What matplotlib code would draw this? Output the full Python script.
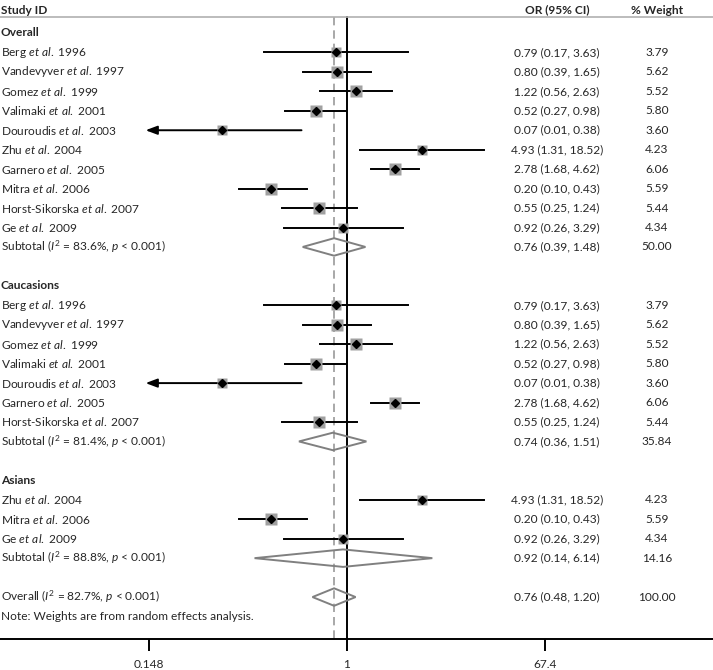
import numpy as np
import matplotlib
matplotlib.use("Agg")
import matplotlib.pyplot as plt
import matplotlib.transforms as mtransforms
from matplotlib.patches import Polygon

# 研究データ
authors = ["Berg", "Vandevyver", "Gomez", "Valimaki", "Douroudis",
           "Zhu", "Garnero", "Mitra", "Horst-Sikorska", "Ge"]
years = [1996, 1997, 1999, 2001, 2003, 2004, 2005, 2006, 2007, 2009]
or_est = [0.79, 0.80, 1.22, 0.52, 0.07, 4.93, 2.78, 0.20, 0.55, 0.92]
ci_low = [0.17, 0.39, 0.56, 0.27, 0.01, 1.31, 1.68, 0.10, 0.25, 0.26]
ci_high = [3.63, 1.65, 2.63, 0.98, 0.38, 18.52, 4.62, 0.43, 1.24, 3.29]
weights = [3.79, 5.62, 5.52, 5.80, 3.60, 4.23, 6.06, 5.59, 5.44, 4.34]

# サブグループ
groups = ["Overall", "Caucasions", "Asians"]
group_members = [[0, 1, 2, 3, 4, 5, 6, 7, 8, 9], [0, 1, 2, 3, 4, 6, 8], [5, 7, 9]]
sub_est = [0.76, 0.74, 0.92]
sub_low = [0.39, 0.36, 0.14]
sub_high = [1.48, 1.51, 6.14]
sub_weight = ["50.00", "35.84", "14.16"]
sub_i2 = ["83.6", "81.4", "88.8"]

overall_est = 0.76
overall_low = 0.48
overall_high = 1.20
overall_i2 = "82.7"

tick_vals = [1 / 67.4, 1, 67.4]
tick_labels = ["0.148", "1", "67.4"]

plt.rcParams["font.family"] = ["Lato", "DejaVu Sans"]
plt.rcParams["font.size"] = 8.6
plt.rcParams["mathtext.fontset"] = "custom"
plt.rcParams["mathtext.rm"] = "Lato"
plt.rcParams["mathtext.it"] = "Lato:italic"
plt.rcParams["mathtext.bf"] = "Lato:bold"

W, H = 713, 670
fig = plt.figure(figsize=(W / 100, H / 100), dpi=100)
axis_px = 639
ax = fig.add_axes([0, (H - axis_px) / H, 1, axis_px / H])

# x軸: 対数スケール (px位置合わせ)
k = (545 - 347) / np.log(67.4)
ax.set_xscale("log")
ax.set_xlim(np.exp(-347 / k), np.exp((W - 347) / k))

# y軸: 行番号
row0_px, row_h = 33, 19.45
ax.set_ylim((axis_px - row0_px) / row_h, -row0_px / row_h)
hdr_row = (10 - row0_px) / row_h
hdr_line = (17 - row0_px) / row_h

trans = mtransforms.blended_transform_factory(ax.transAxes, ax.transData)
col_or = 557 / W
col_w = 657 / W
txt_c = "#262626"

ax.text(0.001, hdr_row, "Study ID", transform=trans, ha="left", va="center",
        fontweight="bold", color=txt_c)
ax.text(col_or, hdr_row, "OR (95% CI)", transform=trans, ha="center", va="center",
        fontweight="bold", color=txt_c)
ax.text(col_w, hdr_row, "% Weight", transform=trans, ha="center", va="center",
        fontweight="bold", color=txt_c)
ax.axhline(hdr_line, color="#b0b0b0", lw=1.2)

xclip = tick_vals[0]


def draw_diamond(est, lo, hi, row):
    pts = [(lo, row), (est, row - 0.45), (hi, row), (est, row + 0.45)]
    ax.add_patch(Polygon(pts, closed=True, fill=False, edgecolor="#808080", lw=1.4, zorder=4))


row = 0
for g, members, se, sl, sh, sw, si in zip(groups, group_members, sub_est, sub_low,
                                          sub_high, sub_weight, sub_i2):
    ax.text(0.001, row, g, transform=trans, ha="left", va="center",
            fontweight="bold", color=txt_c)
    row += 1
    for i in members:
        label = authors[i] + r" $\mathit{et\ al.}$ " + str(years[i])
        ax.text(0.001, row, label, transform=trans, ha="left", va="center", color=txt_c)
        ax.text(col_or, row, "%.2f (%.2f, %.2f)" % (or_est[i], ci_low[i], ci_high[i]),
                transform=trans, ha="center", va="center", color=txt_c)
        ax.text(col_w, row, "%.2f" % weights[i], transform=trans, ha="center",
                va="center", color=txt_c)
        if ci_low[i] < xclip:
            ax.annotate("", xy=(xclip * 0.93, row), xytext=(ci_high[i], row),
                        arrowprops=dict(arrowstyle="-|>,head_length=0.8,head_width=0.3",
                                        color="black", lw=1.4, shrinkA=0, shrinkB=0),
                        zorder=2)
        else:
            ax.plot([ci_low[i], ci_high[i]], [row, row], color="black", lw=1.4, zorder=2)
        side = 5.1 * np.sqrt(weights[i]) * 72 / 100
        ax.plot(or_est[i], row, marker="s", ms=side, color="#a0a0a0", mec="none", zorder=3)
        ax.plot(or_est[i], row, marker="D", ms=4.4, color="black", mec="black", zorder=5)
        row += 1
    ax.text(0.001, row, r"Subtotal ($\mathit{I}^2$ = " + si + r"%, $\mathit{p}$ < 0.001)",
            transform=trans, ha="left", va="center", color=txt_c)
    ax.text(col_or, row, "%.2f (%.2f, %.2f)" % (se, sl, sh), transform=trans,
            ha="center", va="center", color=txt_c)
    ax.text(col_w, row, sw, transform=trans, ha="center", va="center", color=txt_c)
    draw_diamond(se, sl, sh, row)
    row += 2

ax.text(0.001, row, r"Overall ($\mathit{I}^2$ = " + overall_i2 + r"%, $\mathit{p}$ < 0.001)",
        transform=trans, ha="left", va="center", color=txt_c)
ax.text(col_or, row, "%.2f (%.2f, %.2f)" % (overall_est, overall_low, overall_high),
        transform=trans, ha="center", va="center", color=txt_c)
ax.text(col_w, row, "100.00", transform=trans, ha="center", va="center", color=txt_c)
draw_diamond(overall_est, overall_low, overall_high, row)
ax.text(0.001, row + 1, "Note: Weights are from random effects analysis.",
        transform=trans, ha="left", va="center", color=txt_c)

# 基準線
ybot = ax.get_ylim()[0]
ax.plot([1, 1], [hdr_line, ybot], color="black", lw=1.4, zorder=1)
ax.plot([overall_est, overall_est], [hdr_line, ybot], color="#999999", lw=1.2,
        dashes=(5, 3), zorder=1)

for s in ["top", "left", "right"]:
    ax.spines[s].set_visible(False)
ax.spines["bottom"].set_linewidth(1.4)
ax.set_xticks(tick_vals)
ax.set_xticklabels(tick_labels)
ax.xaxis.set_minor_locator(matplotlib.ticker.NullLocator())
ax.tick_params(axis="x", direction="out", length=8.6, width=1.4, pad=5.5, labelsize=8.6,
               labelcolor=txt_c)
ax.set_yticks([])
ax.patch.set_visible(False)

fig.savefig("out.png", dpi=100)
